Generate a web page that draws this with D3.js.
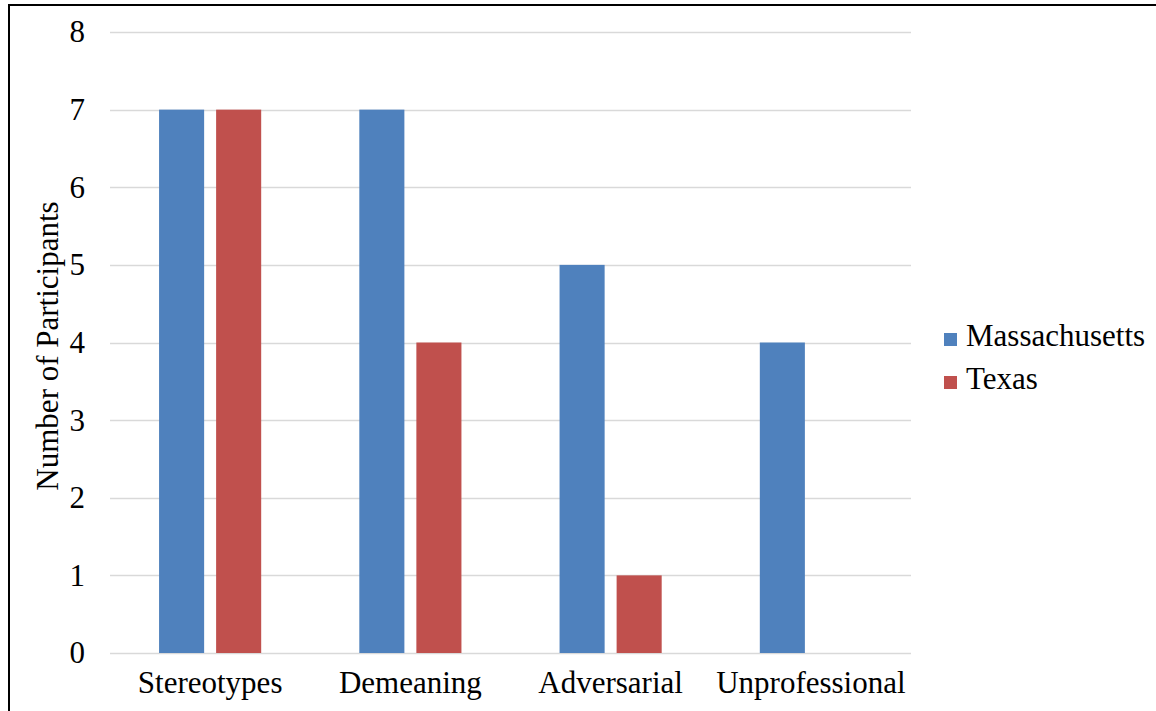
<!DOCTYPE html>
<html>
<head>
<meta charset="utf-8">
<script src="https://cdn.jsdelivr.net/npm/d3@7/dist/d3.min.js"></script>
<style>
  html, body { margin: 0; padding: 0; background: #fff; }
  svg { display: block; }
  text { font-family: "Liberation Serif", "Times New Roman", serif; fill: #000; }
</style>
</head>
<body>
<svg id="chart" width="1156" height="711"></svg>
<script>
const categories = ["Stereotypes", "Demeaning", "Adversarial", "Unprofessional"];
const seriesNames = ["Massachusetts", "Texas"];
const massachusetts = [7, 7, 5, 4];
const texas = [7, 4, 1, 0];
const yTicks = [0, 1, 2, 3, 4, 5, 6, 7, 8];
const colors = ["#4F81BD", "#C0504D"];

const seriesValues = [massachusetts, texas];
const data = categories.map((c, i) => ({
  category: c,
  values: seriesNames.map((s, j) => ({ series: s, value: seriesValues[j][i] }))
}));

const svg = d3.select("#chart");
const FONT = "'Liberation Serif', 'Times New Roman', serif";

// frame
svg.append("rect")
  .attr("x", 9).attr("y", 5)
  .attr("width", 1200).attr("height", 800)
  .attr("fill", "none").attr("stroke", "#000").attr("stroke-width", 2);

const plotLeft = 110, plotRight = 911, plotTop = 32, plotBottom = 653;

const y = d3.scaleLinear().domain([0, 8]).range([plotBottom, plotTop]);
const x0 = d3.scaleBand().domain(categories).range([plotLeft, plotRight])
  .paddingInner(0.49).paddingOuter(0.245);
const x1 = d3.scaleBand().domain(seriesNames).range([0, x0.bandwidth()])
  .paddingInner(0.21).paddingOuter(0);
const color = d3.scaleOrdinal().domain(seriesNames).range(colors);

// gridlines
svg.append("g")
  .selectAll("line")
  .data(yTicks)
  .join("line")
  .attr("x1", plotLeft).attr("x2", plotRight)
  .attr("y1", d => Math.round(y(d)) + 0.5).attr("y2", d => Math.round(y(d)) + 0.5)
  .attr("stroke", "#D9D9D9").attr("stroke-width", 1.5);

// y axis labels
const yAxis = d3.axisLeft(y).tickValues(yTicks).tickSize(0).tickPadding(0).tickFormat(d3.format("d"));
const gy = svg.append("g").attr("transform", `translate(85,0)`).call(yAxis);
gy.attr("font-family", FONT).attr("font-size", 31);
gy.select(".domain").remove();
gy.selectAll("text").attr("fill", "#000").attr("dy", "0.32em");

// bars
const groups = svg.append("g").selectAll("g")
  .data(data)
  .join("g")
  .attr("transform", d => `translate(${x0(d.category)},0)`);
groups.selectAll("rect")
  .data(d => d.values.filter(v => v.value > 0))
  .join("rect")
  .attr("x", d => x1(d.series))
  .attr("width", x1.bandwidth())
  .attr("y", d => y(d.value))
  .attr("height", d => y(0) - y(d.value))
  .attr("fill", d => color(d.series));

// x axis labels
const xAxis = d3.axisBottom(x0).tickSize(0).tickPadding(0);
const gx = svg.append("g").attr("transform", `translate(0,${plotBottom})`).call(xAxis);
gx.attr("font-family", FONT).attr("font-size", 31);
gx.select(".domain").remove();
gx.selectAll("text").attr("fill", "#000").attr("y", 40).attr("dy", 0);

// y axis title
svg.append("text")
  .attr("transform", "translate(58,346) rotate(-90)")
  .attr("text-anchor", "middle")
  .attr("font-family", FONT)
  .attr("font-size", 31)
  .text("Number of Participants");

// legend
const legend = svg.append("g").selectAll("g")
  .data(seriesNames)
  .join("g")
  .attr("transform", (d, i) => `translate(944,${333 + i * 43})`);
legend.append("rect")
  .attr("width", 13).attr("height", 13)
  .attr("fill", d => color(d));
legend.append("text")
  .attr("x", 22).attr("y", 13)
  .attr("font-family", FONT)
  .attr("font-size", 31)
  .text(d => d);
</script>
</body>
</html>
